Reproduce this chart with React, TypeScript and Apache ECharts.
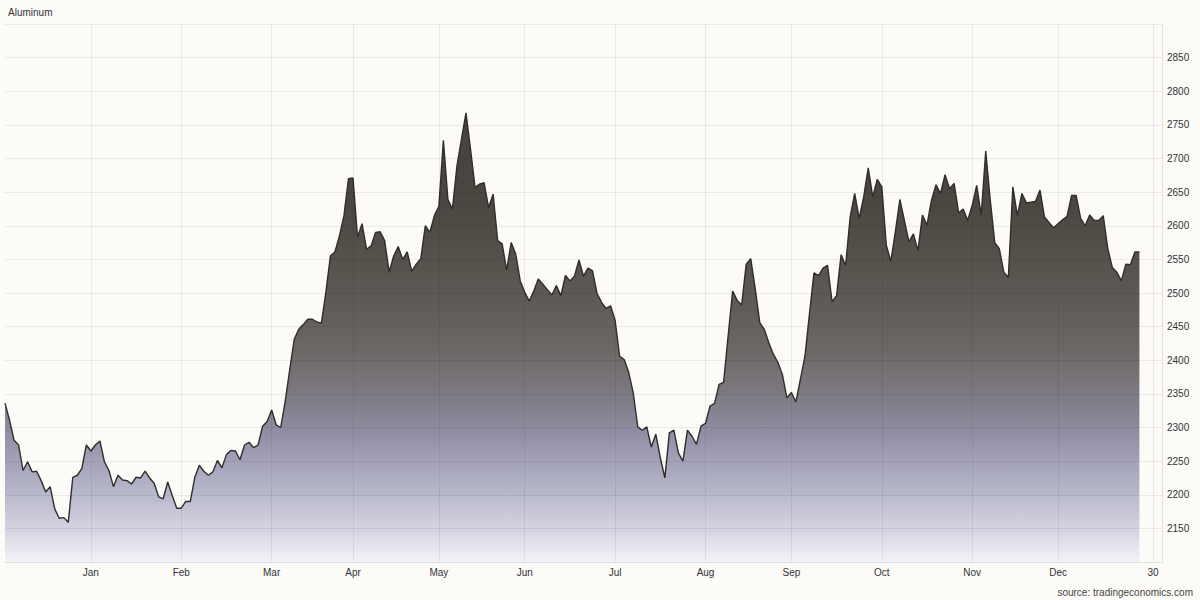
import React, { useEffect, useRef } from "react";
import * as echarts from "echarts";

const values: number[] = [
  2336, 2311, 2281, 2274, 2236, 2249, 2234, 2235, 2221, 2204,
  2212, 2179, 2165, 2166, 2159, 2226, 2229, 2239, 2274, 2265,
  2274, 2280, 2249, 2236, 2212, 2229, 2222, 2221, 2216, 2226,
  2225, 2235, 2225, 2217, 2197, 2194, 2219, 2199, 2180, 2180,
  2190, 2190, 2226, 2244, 2235, 2229, 2234, 2251, 2240, 2260,
  2266, 2265, 2252, 2274, 2278, 2270, 2274, 2302, 2309, 2326,
  2304, 2300, 2339, 2386, 2431, 2446, 2453, 2461, 2461, 2457,
  2455, 2501, 2555, 2561, 2585, 2615, 2670, 2671, 2583, 2603,
  2565, 2570, 2590, 2591, 2578, 2531, 2555, 2569, 2550, 2561,
  2532, 2543, 2551, 2600, 2590, 2615, 2629, 2727, 2639, 2625,
  2689, 2729, 2768, 2714, 2657, 2662, 2664, 2627, 2647, 2578,
  2573, 2534, 2575, 2558, 2518, 2501, 2488, 2503, 2521, 2513,
  2505, 2497, 2511, 2496, 2526, 2518, 2525, 2549, 2525, 2537,
  2533, 2499, 2486, 2477, 2481, 2459, 2406, 2401, 2382, 2352,
  2301, 2296, 2301, 2271, 2290, 2255, 2225, 2292, 2296, 2262,
  2250, 2296, 2287, 2275, 2302, 2306, 2332, 2336, 2364, 2367,
  2436, 2503, 2489, 2482, 2543, 2551, 2506, 2456, 2446, 2426,
  2409, 2397, 2379, 2344, 2352, 2338, 2372, 2406, 2469, 2530,
  2526, 2537, 2541, 2487, 2496, 2557, 2541, 2613, 2648, 2611,
  2643, 2686, 2643, 2669, 2658, 2571, 2547, 2591, 2639, 2608,
  2576, 2588, 2563, 2616, 2601, 2638, 2661, 2648, 2676, 2655,
  2663, 2619, 2625, 2608, 2630, 2660, 2616, 2711, 2638, 2575,
  2566, 2531, 2523, 2658, 2615, 2648, 2634, 2635, 2636, 2653,
  2613, 2605, 2597, 2603, 2609, 2614, 2645, 2645, 2611, 2600,
  2616, 2608, 2608, 2615, 2566, 2538, 2531, 2518, 2543, 2542,
  2561, 2561,
];

// x-axis: trading-day slots (data slots plus a few trailing empty ones)
const slotCount = 257;
const tickLabels: string[] = ["Jan", "Feb", "Mar", "Apr", "May", "Jun", "Jul", "Aug", "Sep", "Oct", "Nov", "Dec", "30"];
const tickIndex: number[] = [19, 39, 59, 77, 96, 115, 135, 155, 174, 194, 214, 233, 254];

const yMin = 2100;
const yMax = 2900;
const yStep = 50;

const FONT = "'Liberation Sans', Arial, Helvetica, sans-serif";

export default function App() {
  const ref = useRef<HTMLDivElement>(null);

  useEffect(() => {
    if (!ref.current) return;
    const chart = echarts.init(ref.current, undefined, { renderer: "svg" });
    const categories = Array.from({ length: slotCount }, (_, i) => String(i));
    const labelAt = (i: number) => {
      const k = tickIndex.indexOf(i);
      return k >= 0 ? tickLabels[k] : "";
    };
    const isTick = (i: number) => tickIndex.indexOf(i) >= 0;
    const gridColor = "rgba(0,0,0,0.065)";

    chart.setOption({
      animation: false,
      backgroundColor: "#fcfbf8",
      title: [
        {
          text: "Aluminum",
          left: 8,
          top: 7,
          padding: 0,
          textStyle: { fontSize: 10, fontWeight: "normal", color: "#333", fontFamily: FONT },
        },
        {
          text: "source: tradingeconomics.com",
          right: 7,
          bottom: 3,
          padding: 0,
          textStyle: { fontSize: 10, fontWeight: "normal", color: "#444", fontFamily: FONT },
        },
      ],
      grid: { left: 5, right: 38, top: 24, bottom: 38, containLabel: false },
      xAxis: {
        type: "category",
        data: categories,
        boundaryGap: false,
        z: 3,
        axisLine: { show: true, lineStyle: { color: "#e0e0e0", width: 1 } },
        axisTick: { show: false },
        axisLabel: {
          interval: (i: number) => isTick(i),
          formatter: (_v: string, i: number) => labelAt(i),
          color: "#333",
          fontSize: 10,
          fontFamily: FONT,
          margin: 5,
        },
        splitLine: {
          show: true,
          interval: (i: number) => isTick(i),
          lineStyle: { color: gridColor, width: 1 },
        },
      },
      yAxis: {
        type: "value",
        position: "right",
        min: yMin,
        max: yMax,
        interval: yStep,
        z: 3,
        axisLine: { show: true, lineStyle: { color: "#e0e0e0", width: 1 } },
        axisTick: { show: false },
        axisLabel: {
          showMinLabel: false,
          showMaxLabel: false,
          formatter: (v: number) => String(v),
          color: "#333",
          fontSize: 10,
          fontFamily: FONT,
          margin: 5,
        },
        splitLine: { show: true, lineStyle: { color: gridColor, width: 1 } },
      },
      series: [
        {
          type: "line",
          data: values,
          symbol: "none",
          smooth: false,
          z: 2,
          lineStyle: { color: "#2f2e2c", width: 1.4 },
          areaStyle: {
            opacity: 1,
            color: new echarts.graphic.LinearGradient(0, 0, 0, 1, [
              { offset: 0, color: "#47433b" },
              { offset: 0.2, color: "#4b463f" },
              { offset: 0.42, color: "#5f5a55" },
              { offset: 0.53, color: "#6c6866" },
              { offset: 0.64, color: "#807c86" },
              { offset: 0.71, color: "#8f8da2" },
              { offset: 0.78, color: "#a4a3ba" },
              { offset: 0.86, color: "#bcbccf" },
              { offset: 0.93, color: "#d5d5e2" },
              { offset: 1, color: "#f3f2f6" },
            ]),
          },
        },
      ],
    });
    return () => chart.dispose();
  }, []);

  return (
    <div
      ref={ref}
      style={{ position: "absolute", left: 0, top: 0, width: 1200, height: 600 }}
    />
  );
}
